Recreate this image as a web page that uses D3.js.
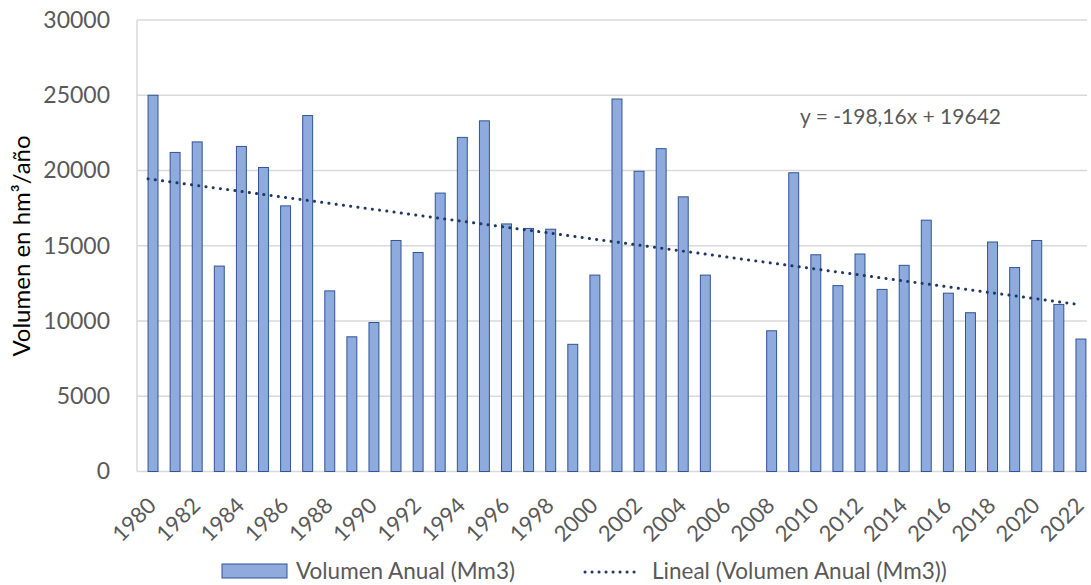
<!DOCTYPE html>
<html><head><meta charset="utf-8">
<script src="https://cdn.jsdelivr.net/npm/d3@7"></script>
<style>body{margin:0;background:#fff}svg{display:block}</style>
</head><body>
<svg id="chart" width="1091" height="585"></svg>
<script>
const years = d3.range(1980, 2023);
const values = [25000,21200,21900,13650,21600,20200,17650,23650,12000,8950,
  9900,15350,14550,18500,22200,23300,16450,16150,16100,8450,
  13050,24750,19950,21450,18250,13050,null,null,9350,19850,
  14400,12350,14450,12100,13700,16700,11850,10550,15250,13550,
  15350,11100,8800];
const yTicks = [0,5000,10000,15000,20000,25000,30000];
const xTickLabels = years.filter(y => y % 2 === 0);
const trendSlope = -198.16, trendIntercept = 19642;
const trendLabel = "y = -198,16x + 19642";
const yTitle = "Volumen en hm³/año";
const seriesName = "Volumen Anual (Mm3)";
const trendName = "Lineal (Volumen Anual (Mm3))";

const svg = d3.select("#chart");
const L = 137, R = 1087, T = 20, B = 471.5;
const font = "Lato, 'Open Sans', sans-serif";
const x = d3.scaleBand().domain(years).range([L, R]).padding(0);
const y = d3.scaleLinear().domain([0, 30000]).range([B, T]);
const step = x.step();
const cx = d => x(d) + x.bandwidth() / 2;

// gridlines
svg.append("g").selectAll("line").data(yTicks).join("line")
  .attr("x1", L).attr("x2", R).attr("y1", d => y(d)).attr("y2", d => y(d))
  .attr("stroke", "#d9d9d9").attr("stroke-width", 1.5);
svg.append("line").attr("x1", L).attr("x2", L).attr("y1", T).attr("y2", B)
  .attr("stroke", "#d9d9d9").attr("stroke-width", 1.5);

// y axis
const yAxis = svg.append("g").attr("transform", `translate(${110},0)`)
  .call(d3.axisLeft(y).tickValues(yTicks).tickSize(0).tickPadding(0).tickFormat(d3.format("d")));
yAxis.select(".domain").remove();
yAxis.selectAll("text").attr("font-family", font).attr("font-size", 23).attr("fill", "#595959");

// bars
const data = years.map((yr, i) => ({yr, v: values[i]})).filter(d => d.v != null);
const bw = step * 0.45;
svg.append("g").selectAll("rect").data(data).join("rect")
  .attr("x", d => cx(d.yr)).attr("width", bw)
  .attr("y", d => y(d.v)).attr("height", d => B - y(d.v))
  .attr("fill", "#8faadc").attr("stroke", "#2f5597").attr("stroke-width", 1);

// trend line
const trendPts = years.map((yr, i) => [cx(yr), y(trendSlope * (i + 1) + trendIntercept)]);
svg.append("path").attr("d", d3.line()(trendPts))
  .attr("fill", "none").attr("stroke", "#203864").attr("stroke-width", 3)
  .attr("stroke-linecap", "round").attr("stroke-dasharray", "0.1 7.2");

// x axis
const xAxis = svg.append("g").attr("transform", `translate(0,${B})`)
  .call(d3.axisBottom(x).tickValues(xTickLabels).tickSize(0).tickPadding(0));
xAxis.select(".domain").remove();
xAxis.selectAll("text")
  .attr("font-family", font).attr("font-size", 22).attr("fill", "#595959")
  .attr("text-anchor", "end")
  .attr("transform", "translate(4,30) rotate(-45)")
  .attr("y", 0).attr("x", 0).attr("dy", "0.35em");

// trend equation
svg.append("text").attr("x", 800).attr("y", 124).text(trendLabel)
  .attr("font-family", font).attr("font-size", 21).attr("fill", "#595959");

// y title
svg.append("text").attr("transform", `translate(30,246) rotate(-90)`)
  .attr("text-anchor", "middle").text(yTitle)
  .attr("font-family", font).attr("font-size", 24).attr("fill", "#000");

// legend
const lg = svg.append("g");
lg.append("rect").attr("x", 222).attr("y", 564).attr("width", 65).attr("height", 14)
  .attr("fill", "#8faadc").attr("stroke", "#2f5597").attr("stroke-width", 1);
lg.append("text").attr("x", 296).attr("y", 579).text(seriesName)
  .attr("font-family", font).attr("font-size", 22.5).attr("fill", "#595959");
lg.append("line").attr("x1", 585).attr("x2", 640).attr("y1", 572).attr("y2", 572)
  .attr("stroke", "#203864").attr("stroke-width", 3).attr("stroke-linecap", "round")
  .attr("stroke-dasharray", "0.1 6.9");
lg.append("text").attr("x", 652).attr("y", 579).text(trendName)
  .attr("font-family", font).attr("font-size", 22.5).attr("fill", "#595959");
</script>
</body></html>
